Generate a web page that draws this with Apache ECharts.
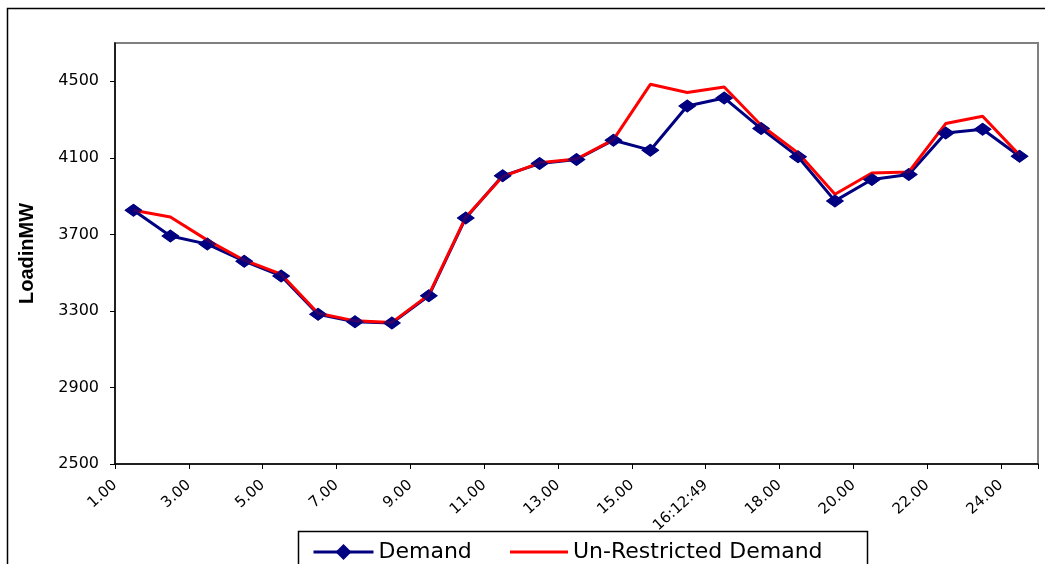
<!DOCTYPE html>
<html>
<head>
<meta charset="utf-8">
<script src="https://cdn.jsdelivr.net/npm/echarts@6/dist/echarts.min.js"></script>
<style>
html,body{margin:0;padding:0;background:#fff;}
#chart{width:1045px;height:564px;}
</style>
</head>
<body>
<div id="chart"></div>
<script>
const categories = ['1.00','2.00','3.00','4.00','5.00','6.00','7.00','8.00','9.00','10.00','11.00','12.00','13.00','14.00','15.00','16.00','16:12:49','17.00','18.00','19.00','20.00','21.00','22.00','23.00','24.00'];
const demand = [3826,3691,3649,3560,3483,3283,3243,3237,3379,3786,4006,4070,4091,4192,4140,4371,4413,4253,4106,3875,3987,4013,4230,4249,4108];
const unrestricted = [3826,3791,3670,3565,3492,3288,3248,3240,3384,3790,4002,4074,4094,4195,4484,4441,4470,4270,4126,3910,4021,4026,4279,4317,4114];
const yTicks = [2500,2900,3300,3700,4100,4500];
const yMin = 2500, yMax = 4700;
const seriesNames = ['Demand','Un-Restricted Demand'];

const NAVY = '#000080', RED = '#FF0000';
const chart = echarts.init(document.getElementById('chart'), null, {renderer:'canvas'});
const labelCats = categories.concat(['']);

chart.setOption({
  animation: false,
  backgroundColor: '#fff',
  graphic: [
    {type:'rect', z:0, silent:true, shape:{x:7.5, y:8.5, width:1100, height:600},
     style:{fill:'none', stroke:'#000', lineWidth:1.5}},
    {type:'rect', z:1, silent:true, shape:{x:298.5, y:531.5, width:569, height:60},
     style:{fill:'#fff', stroke:'#000', lineWidth:1.5}}
  ],
  grid: {left:115, right:7, top:43, bottom:100, show:true, borderColor:'#808080', borderWidth:2, backgroundColor:'transparent'},
  legend: [
    {data:[seriesNames[0]], left:307, top:536, itemWidth:60, itemHeight:20, itemGap:0, z:5,
     lineStyle:{width:3},
     textStyle:{fontFamily:'DejaVu Sans', fontSize:22, color:'#000'}},
    {data:[{name:seriesNames[1], icon:'rect'}], left:505, top:536, itemWidth:58, itemHeight:3, itemGap:0, z:5,
     textStyle:{fontFamily:'DejaVu Sans', fontSize:22, color:'#000'}}
  ],
  xAxis: [
    {type:'category', data:categories, boundaryGap:true, position:'bottom',
     axisLine:{show:true, lineStyle:{color:'#000', width:1.5}},
     axisTick:{show:true, length:5, inside:false, lineStyle:{color:'#000', width:1}},
     axisLabel:{show:false}, splitLine:{show:false}},
    {type:'category', data:labelCats, boundaryGap:false, position:'bottom',
     axisLine:{show:false}, axisTick:{show:false}, splitLine:{show:false},
     axisLabel:{show:true, interval:1, rotate:42, margin:19, fontFamily:'DejaVu Sans', fontSize:15, color:'#000'}}
  ],
  yAxis: {
    type:'value', min:yMin, max:yMax,
    name:'LoadinMW', nameLocation:'middle', nameRotate:90, nameGap:78,
    nameTextStyle:{fontFamily:'Liberation Sans', fontWeight:'bold', fontSize:20, color:'#000'},
    axisLine:{show:true, lineStyle:{color:'#000', width:1.5}},
    axisTick:{show:true, length:5, inside:false, customValues:yTicks, lineStyle:{color:'#000', width:1}},
    axisLabel:{show:true, customValues:yTicks, margin:16, fontFamily:'DejaVu Sans', fontSize:16, color:'#000',
      formatter: v => String(v)},
    splitLine:{show:false}
  },
  series: [
    {name:seriesNames[0], type:'line', data:demand, xAxisIndex:0, z:2,
     symbol:'diamond', symbolSize:[18,13], showSymbol:true,
     itemStyle:{color:NAVY}, lineStyle:{color:NAVY, width:3}},
    {name:seriesNames[1], type:'line', data:unrestricted, xAxisIndex:0, z:3,
     symbol:'none', showSymbol:false,
     itemStyle:{color:RED}, lineStyle:{color:RED, width:3}},
    {type:'scatter', data:demand, xAxisIndex:0, z:4,
     symbol:'diamond', symbolSize:[18,13], itemStyle:{color:NAVY}, silent:true}
  ]
});
</script>
</body>
</html>
